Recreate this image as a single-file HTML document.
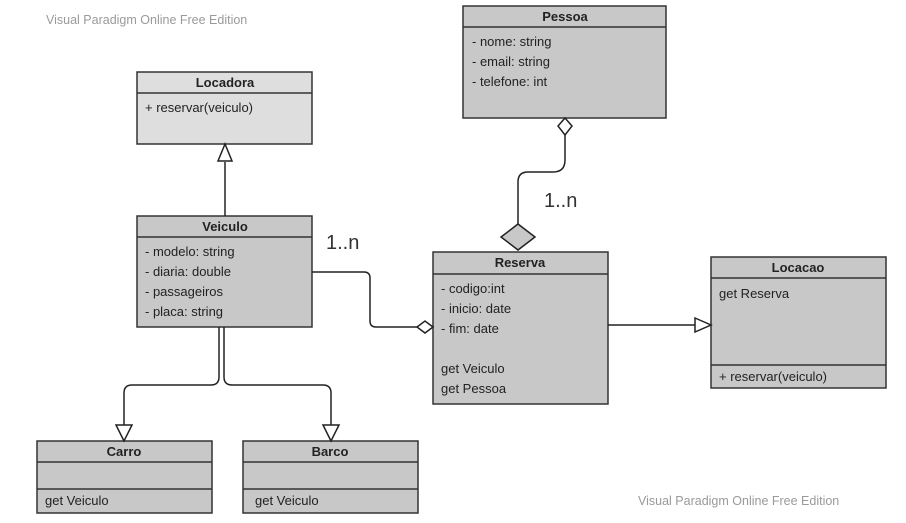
<!DOCTYPE html>
<html><head><meta charset="utf-8"><style>
body{margin:0;background:#fff;}
svg{display:block;font-family:"Liberation Sans",sans-serif;}
</style></head><body>
<svg width="906" height="523" viewBox="0 0 906 523" xmlns="http://www.w3.org/2000/svg">
<g font-size="12.5" fill="#9a9a9a">
<text x="46" y="24">Visual Paradigm Online Free Edition</text>
<text x="638" y="505">Visual Paradigm Online Free Edition</text>
</g>
<g stroke="#333" stroke-width="1.5">
<!-- Locadora -->
<rect x="137" y="72" width="175" height="72" fill="#dedede"/>
<line x1="137" y1="93" x2="312" y2="93"/>
<!-- Veiculo -->
<rect x="137" y="216" width="175" height="111" fill="#c8c8c8"/>
<line x1="137" y1="237" x2="312" y2="237"/>
<!-- Pessoa -->
<rect x="463" y="6" width="203" height="112" fill="#c8c8c8"/>
<line x1="463" y1="27" x2="666" y2="27"/>
<!-- Reserva -->
<rect x="433" y="252" width="175" height="152" fill="#c8c8c8"/>
<line x1="433" y1="274" x2="608" y2="274"/>
<!-- Locacao -->
<rect x="711" y="257" width="175" height="131" fill="#c8c8c8"/>
<line x1="711" y1="278" x2="886" y2="278"/>
<line x1="711" y1="365" x2="886" y2="365"/>
<!-- Carro -->
<rect x="37" y="441" width="175" height="72" fill="#c8c8c8"/>
<line x1="37" y1="462" x2="212" y2="462"/>
<line x1="37" y1="489" x2="212" y2="489"/>
<!-- Barco -->
<rect x="243" y="441" width="175" height="72" fill="#c8c8c8"/>
<line x1="243" y1="462" x2="418" y2="462"/>
<line x1="243" y1="489" x2="418" y2="489"/>
</g>
<g stroke="#222" stroke-width="1.5" fill="none">
<line x1="225" y1="162" x2="225" y2="216"/>
<path d="M312 272 H364 Q370 272 370 278 V321 Q370 327 376 327 H418"/>
<path d="M565 135 V160 Q565 172 553 172 H528 Q518 172 518 182 V224"/>
<line x1="608" y1="325" x2="695" y2="325"/>
<path d="M219 327 V377 Q219 385 211 385 H132 Q124 385 124 393 V425"/>
<path d="M224 327 V377 Q224 385 232 385 H323 Q331 385 331 393 V425"/>
</g>
<g stroke="#222" stroke-width="1.5">
<polygon points="225,144 218,161 232,161" fill="#fff"/>
<polygon points="695,318 711,325 695,332" fill="#fff"/>
<polygon points="124,441 116,425 132,425" fill="#fff"/>
<polygon points="331,441 323,425 339,425" fill="#fff"/>
<polygon points="433,327 425,321 417,327 425,333" fill="#fff"/>
<polygon points="565,118 572,126 565,135 558,126" fill="#fff"/>
<polygon points="518,224 535,237 518,250 501,237" fill="#c8c8c8"/>
</g>
<g font-size="13" fill="#222">
<g font-weight="bold" text-anchor="middle">
<text x="225" y="87">Locadora</text>
<text x="225" y="231">Veiculo</text>
<text x="565" y="21">Pessoa</text>
<text x="520" y="267">Reserva</text>
<text x="798" y="272">Locacao</text>
<text x="124" y="456">Carro</text>
<text x="330" y="456">Barco</text>
</g>
<text x="145" y="112">+ reservar(veiculo)</text>
<text x="145" y="256">- modelo: string</text>
<text x="145" y="276">- diaria: double</text>
<text x="145" y="296">- passageiros</text>
<text x="145" y="316">- placa: string</text>
<text x="472" y="46">- nome: string</text>
<text x="472" y="66">- email: string</text>
<text x="472" y="86">- telefone: int</text>
<text x="441" y="293">- codigo:int</text>
<text x="441" y="313">- inicio: date</text>
<text x="441" y="333">- fim: date</text>
<text x="441" y="373">get Veiculo</text>
<text x="441" y="393">get Pessoa</text>
<text x="719" y="298">get Reserva</text>
<text x="719" y="381">+ reservar(veiculo)</text>
<text x="45" y="505">get Veiculo</text>
<text x="255" y="505">get Veiculo</text>
</g>
<g font-size="20" fill="#333">
<text x="326" y="249">1..n</text>
<text x="544" y="207">1..n</text>
</g>
</svg>
</body></html>
